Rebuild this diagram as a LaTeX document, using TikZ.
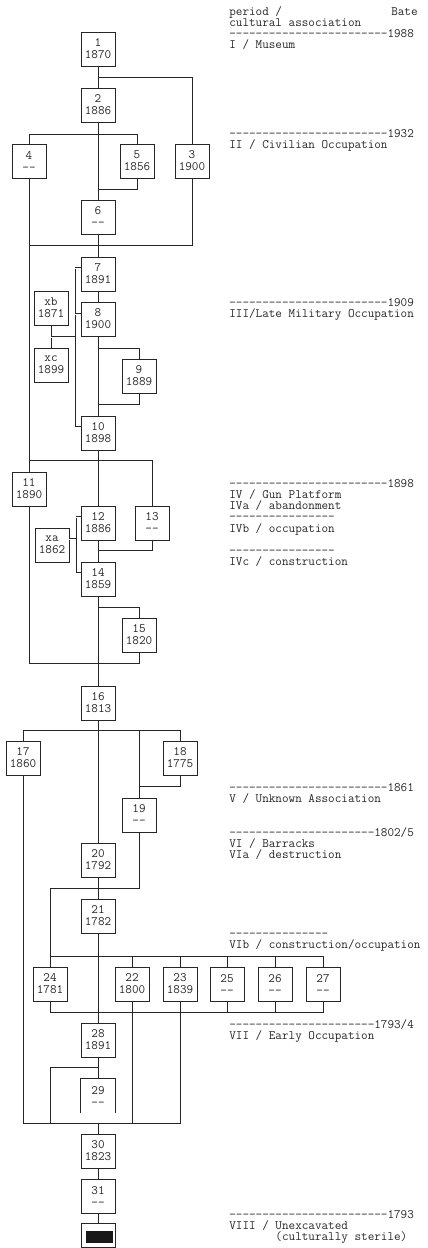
\documentclass[tikz,border=0pt]{standalone}
\newcommand\dashrule[1]{\foreach\i in {1,...,#1}{-\kern0pt}}
\begin{document}
\begin{tikzpicture}[x=1pt,y=-1pt,line width=0.7pt,draw=black!85,
	unit/.style={draw,minimum width=34,minimum height=34,inner sep=0,align=center,text=black!85,font=\ttfamily\fontsize{12.8}{12}\selectfont},
	lab/.style={anchor=base west,align=left,inner sep=0,text=black!85,font=\ttfamily\fontsize{12.8}{11.2}\selectfont},
	eqline/.style={double,double distance=1pt,line width=0.6pt}]
	\draw[draw=none] (0,0)rectangle(428,1248);
	\clip (0,0)rectangle(428,1248);
	\foreach \n/\x/\y/\t in {n1/98/49/{1\\1870},n2/98/105/{2\\1886},n3/192/161/{3\\1900},n4/29/161/{4\\\dashrule{2}},
	n5/137/161/{5\\1856},n6/98/217/{6\\\dashrule{2}},n7/98/274/{7\\1891},n8/98/319/{8\\1900},xb/51/308/{xb\\1871},
	xc/51/365/{xc\\1899},n9/139/376/{9\\1889},n10/98/433/{10\\1898},n11/29/489/{11\\1890},n12/98/523/{12\\1886},
	n13/152/523/{13\\\dashrule{2}},xa/52/545/{xa\\1862},n14/98/579/{14\\1859},n15/139/635/{15\\1820},n16/98/703/{16\\1813},
	n17/23/758/{17\\1860},n18/180/758/{18\\1775},n19/139/815/{19\\\dashrule{2}},n20/98/860/{20\\1792},n21/98/916/{21\\1782},
	n24/50/984/{24\\1781},n22/132/984/{22\\1800},n23/180/984/{23\\1839},n25/227/984/{25\\\dashrule{2}},
	n26/275/984/{26\\\dashrule{2}},n27/323/984/{27\\\dashrule{2}},n28/98/1040/{28\\1891},n30/98/1151/{30\\1823},
	n31/98/1196/{31\\\dashrule{2}}}
	\node[unit] (\n) at (\x,\y) {\t};
	\node[unit,draw=none] (n29) at (98,1096) {29\\\dashrule{2}};
	\draw (n29.south west)--(n29.north west)--(n29.north east)--(n29.south east);
	\node[unit,minimum height=24] (n32) at (98,1235) {};
	\fill[black!90] ([shift={(5,8)}]n32.north west) rectangle ([shift={(-2,-4)}]n32.south east);
	\foreach \h/\y in {h1/77,h2/134,h3/189,h4/245,h5/348,h6/404,h7/460,h8/550,h9/607,h10/663,h11/730,h12/786,h13/888,h14/956,h15/1012,h16/1067,h17/1123}
	\coordinate (\h) at (0,\y);
	\foreach \k/\x/\y in {k1/75/268,k2/75/314,k3/75/427,k4/75/337,k5/76/517,k6/76/539,k7/76/573}
	\coordinate (\k) at (\x,\y);
	\draw (n1)--(n2)--(n6)--(n7)--(n8)--(n10)--(n12)--(n14)--(n16)--(n20)--(n21)--(n28)--(n29);
	\draw (n30 |- h17)--(n30)--(n31)--(n32);
	\draw (n2 |- h1) -| (n3);
	\draw (n4) |- (n5 |- h2)--(n5);
	\draw (n5) |- (n6 |- h3);
	\draw (n3) |- (n4 |- h4);
	\draw (n4)--(n11);
	\draw (n8 |- h5) -| (n9);
	\draw (n9) |- (n10 |- h6);
	\draw (n11) |- (n13 |- h7)--(n13);
	\draw (n13) |- (n14 |- h8);
	\draw (n14 |- h9) -| (n15);
	\draw (n11) |- (n15 |- h10)--(n15);
	\draw (n17) |- (n18 |- h11)--(n18);
	\draw (n19 |- h11)--(n19);
	\draw (n18) |- (n19 |- h12);
	\draw (n19) |- (n24 |- h13)--(n24 |- h14);
	\draw (n24) |- (n27 |- h14)--(n27);
	\foreach \n in {n22,n23,n25,n26}
	\draw (\n |- h14)--(\n);
	\draw (n24) |- (n27 |- h15)--(n27);
	\foreach \n in {n25,n26}
	\draw (\n)--(\n |- h15);
	\draw (n22)--(n22 |- h17);
	\draw (n17) |- (n23 |- h17)--(n23);
	\draw (n28 |- h16) -| (n24 |- h17);
	\draw (k1)--(k3);
	\draw[eqline] (k1)--(n7.west |- k1);
	\draw[eqline] (k2)--(n8.west |- k2);
	\draw[eqline] (k3)--(n10.west |- k3);
	\draw (xb)--(xc);
	\draw[eqline] (xb |- k4)--(k4);
	\draw (k5)--(k7);
	\draw[eqline] (k5)--(n12.west |- k5);
	\draw[eqline] (xa.east |- k6)--(k6);
	\draw[eqline] (k7)--(n14.west |- k7);
	\node[lab] (p0) at (229,48.6) {period /\\cultural association\\\dashrule{24}1988\\I / Museum};
	\node[lab,anchor=base east] (p0b) at (418,15) {Bate};
	\node[lab] (p1) at (229,148.2) {\dashrule{24}1932\\II / Civilian Occupation};
	\node[lab] (p2) at (229,317.2) {\dashrule{24}1909\\III/Late Military Occupation};
	\node[lab] (p3) at (229,565.6) {\dashrule{24}1898\\IV / Gun Platform\\IVa / abandonment\\\dashrule{16}\\IVb / occupation\\[11.2pt]\dashrule{16}\\IVc / construction};
	\node[lab] (p4) at (229,802.2) {\dashrule{24}1861\\V / Unknown Association};
	\node[lab] (p5) at (229,858.4) {\dashrule{22}1802/5\\VI / Barracks\\VIa / destruction};
	\node[lab] (p6) at (229,948.2) {\dashrule{15}\\VIb / construction/occupation};
	\node[lab] (p7) at (229,1039.2) {\dashrule{22}1793/4\\VII / Early Occupation};
	\node[lab] (p8) at (229,1240.4) {\dashrule{24}1793\\VIII / Unexcavated\\\phantom{VIII / }(culturally sterile)};
\end{tikzpicture}
\end{document}
